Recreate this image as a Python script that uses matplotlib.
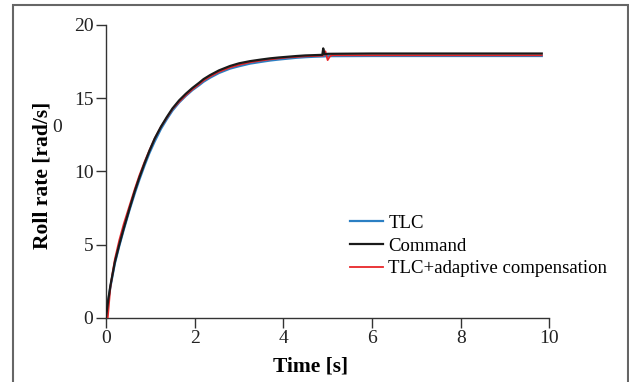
import matplotlib
matplotlib.use("Agg")
import matplotlib.pyplot as plt
from matplotlib.patches import Rectangle

plt.rcParams['font.family'] = ['Liberation Serif', 'DejaVu Serif']

# values
t_cmd = [0, 0.05, 0.1, 0.15, 0.2, 0.3, 0.4, 0.53, 0.65, 0.75, 0.87, 0.98, 1.1,
         1.24, 1.37, 1.5, 1.65, 1.8, 1.95, 2.1, 2.2, 2.35, 2.55, 2.8, 3.0, 3.25,
         3.5, 3.7, 3.9, 4.1, 4.3, 4.5, 4.7, 4.88, 4.9, 4.93, 5.0, 6.0, 7.0, 8.0,
         9.0, 9.83]
v_cmd = [0, 1.2, 2.2, 3.0, 3.8, 5.0, 6.1, 7.45, 8.65, 9.55, 10.55, 11.4, 12.25,
         13.05, 13.7, 14.3, 14.85, 15.3, 15.7, 16.05, 16.3, 16.58, 16.9, 17.2,
         17.38, 17.53, 17.64, 17.72, 17.78, 17.83, 17.88, 17.92, 17.94, 17.96,
         18.4, 18.0, 18.03, 18.05, 18.05, 18.05, 18.05, 18.05]

t_tlc = [0, 0.05, 0.1, 0.15, 0.2, 0.3, 0.4, 0.53, 0.65, 0.75, 0.87, 0.98, 1.1,
         1.24, 1.37, 1.5, 1.65, 1.8, 1.95, 2.1, 2.2, 2.35, 2.55, 2.8, 3.0, 3.25,
         3.5, 3.7, 3.9, 4.1, 4.3, 4.5, 4.7, 4.9, 5.0, 6.0, 7.0, 8.0, 9.0, 9.83]
v_tlc = [0, 1.15, 2.1, 2.9, 3.7, 4.9, 6.0, 7.35, 8.5, 9.4, 10.4, 11.25, 12.05,
         12.9, 13.55, 14.15, 14.7, 15.15, 15.55, 15.88, 16.12, 16.4, 16.72, 17.02,
         17.18, 17.36, 17.48, 17.57, 17.64, 17.7, 17.76, 17.8, 17.83, 17.85,
         17.87, 17.88, 17.88, 17.88, 17.88, 17.88]

t_adp = [0, 0.04, 0.1, 0.15, 0.2, 0.3, 0.4, 0.53, 0.65, 0.75, 0.87, 0.98, 1.1,
         1.24, 1.37, 1.5, 1.65, 1.8, 1.95, 2.1, 2.2, 2.35, 2.55, 2.8, 3.0, 3.25,
         3.5, 3.7, 3.9, 4.1, 4.3, 4.5, 4.7, 4.9, 4.95, 5.0, 5.05, 5.1, 6.0, 7.0,
         8.0, 9.0, 9.83]
v_adp = [0, 0.0, 2.1, 3.1, 4.0, 5.3, 6.4, 7.65, 8.8, 9.7, 10.65, 11.45, 12.25,
         13.05, 13.65, 14.25, 14.75, 15.2, 15.6, 15.95, 16.2, 16.48, 16.8,
         17.1, 17.27, 17.45, 17.57, 17.65, 17.72, 17.78, 17.82, 17.86, 17.88,
         17.9, 18.2, 17.6, 17.85, 17.93, 17.93, 17.93, 17.93, 17.93, 17.93]

x_ticks = [0, 2, 4, 6, 8, 10]
y_ticks = [0, 5, 10, 15, 20]

fig = plt.figure(figsize=(6.29, 3.82), dpi=100)
ax = fig.add_axes([0.1685, 0.1683, 0.7048, 0.7663])

# outer frame around the whole figure
fig.patches.append(Rectangle((13 / 629, -0.02), 615 / 629, 1.02 - 5 / 382,
                             transform=fig.transFigure, fill=False,
                             edgecolor='#666666', linewidth=1.5))

ax.plot(t_tlc, v_tlc, color='#2b7fc3', lw=1.6, label='TLC', zorder=2)
ax.plot(t_cmd, v_cmd, color='#1a1a1a', lw=1.6, label='Command', zorder=4)
ax.plot(t_adp, v_adp, color='#e8262a', lw=1.3, label='TLC+adaptive compensation', zorder=3)

ax.set_xlim(0, 10)
ax.set_ylim(0, 20)
ax.set_xticks(x_ticks)
ax.set_yticks(y_ticks)
ax.spines['top'].set_visible(False)
ax.spines['right'].set_visible(False)
for s in ('left', 'bottom'):
    ax.spines[s].set_color('#333333')
    ax.spines[s].set_linewidth(1.0)
ax.tick_params(direction='out', length=7, width=1.0, color='#333333',
               labelsize=14, labelcolor='#222222', pad=2)

fig.text(43 / 629, 1 - 175 / 382, 'Roll rate [rad/s]', rotation=90,
         ha='center', va='center', fontsize=15.5, fontweight='bold')
fig.text(311 / 629, 1 - 366 / 382, 'Time [s]', ha='center', va='center',
         fontsize=15.5, fontweight='bold')
fig.text(57 / 629, 1 - 127 / 382, '0', ha='center', va='center', fontsize=14,
         color='#222222')

ax.legend(loc='upper left', bbox_to_anchor=(0.55, 0.352), frameon=False,
          fontsize=13.5, handlelength=1.75, handletextpad=0.3, labelspacing=0.3,
          borderpad=0, borderaxespad=0)

fig.savefig('out.png', dpi=100)
